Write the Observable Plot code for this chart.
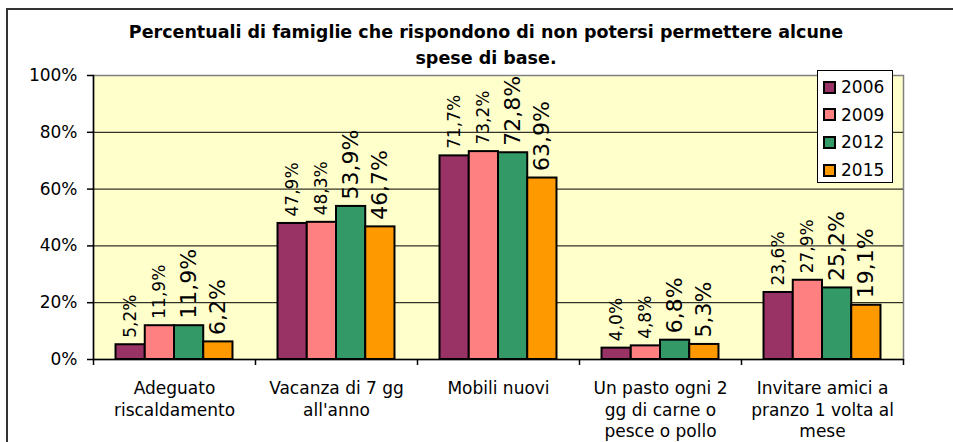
<!DOCTYPE html>
<html>
<head>
<meta charset="utf-8">
<script src="https://cdn.jsdelivr.net/npm/d3@7"></script>
<script src="https://cdn.jsdelivr.net/npm/@observablehq/plot@0.6"></script>
<style>
  html, body { margin: 0; padding: 0; background: #fff; }
  #chart { position: relative; width: 953px; height: 442px; overflow: hidden; font-family: "DejaVu Sans", sans-serif; }
  #chart svg { position: absolute; left: 0; top: 0; }
  #border { position: absolute; left: 6px; top: 8px; width: 1000px; height: 500px; border-left: 2px solid #333; border-top: 2px solid #333; box-sizing: border-box; }
  #title { position: absolute; left: 86px; width: 800px; top: 19px; text-align: center; font-family: "DejaVu Sans", sans-serif; font-weight: bold; font-size: 17.5px; line-height: 26px; color: #000; white-space: nowrap; }
  #legend { position: absolute; left: 817px; top: 70px; width: 76px; height: 113px; box-sizing: border-box; background: #fff; border: 1px solid #000; font-size: 17px; color: #000; }
  .item { position: absolute; left: 5px; height: 20px; display: flex; align-items: center; }
  .sw { width: 13px; height: 13px; box-sizing: border-box; border: 2px solid #000; margin-right: 5px; }
</style>
</head>
<body>
<div id="chart">
  <div id="border"></div>
  <div id="title">Percentuali di famiglie che rispondono di non potersi permettere alcune<br>spese di base.</div>
</div>
<script>
const categories = [
  "Adeguato\nriscaldamento",
  "Vacanza di 7 gg\nall'anno",
  "Mobili nuovi",
  "Un pasto ogni 2\ngg di carne o\npesce o pollo",
  "Invitare amici a\npranzo 1 volta al\nmese"
];
const years = ["2006", "2009", "2012", "2015"];
const values2006 = [5.2, 47.9, 71.7, 4.0, 23.6];
const values2009 = [11.9, 48.3, 73.2, 4.8, 27.9];
const values2012 = [11.9, 53.9, 72.8, 6.8, 25.2];
const values2015 = [6.2, 46.7, 63.9, 5.3, 19.1];
const colors = ["#993366", "#FF8080", "#339966", "#FF9900"];
const yTicks = [0, 20, 40, 60, 80, 100];
const largeLabelYears = ["2012", "2015"];

const series = [values2006, values2009, values2012, values2015];
const data = [];
categories.forEach((c, i) => {
  years.forEach((y, j) => data.push({category: c, year: y, value: series[j][i]}));
});

const W = 953, H = 442, mL = 93, mR = 50, mT = 75, mB = 83;
const bandW = (W - mL - mR) / categories.length;
const fmt = d => d.value.toFixed(1).replace(".", ",") + "%";

const chart = Plot.plot({
  width: W, height: H,
  marginLeft: mL, marginRight: mR, marginTop: mT, marginBottom: mB,
  style: {fontFamily: "'DejaVu Sans', sans-serif", fontSize: "17px", background: "transparent", overflow: "visible", color: "#000"},
  fx: {domain: categories, padding: 0, round: false, axis: null, label: null},
  x: {domain: years, paddingInner: 0, paddingOuter: 0.77, round: false, axis: null, label: null},
  y: {domain: [0, 100], axis: null, label: null},
  color: {domain: years, range: colors},
  marks: [
    Plot.frame({facet: "super", fill: "#FFFFCC", stroke: "#808080", strokeWidth: 1.5}),
    Plot.ruleY([20, 40, 60, 80], {stroke: "#000", strokeWidth: 1}),
    Plot.barY(data, {fx: "category", x: "year", y: "value", fill: "year", stroke: "#000", strokeWidth: 2}),
    Plot.text(data, {filter: d => !largeLabelYears.includes(d.year), fx: "category", x: "year", y: "value", text: fmt, rotate: -90, textAnchor: "start", dy: -7, fontSize: 17, fill: "#000"}),
    Plot.text(data, {filter: d => largeLabelYears.includes(d.year), fx: "category", x: "year", y: "value", text: fmt, rotate: -90, textAnchor: "start", dy: -7, fontSize: 22, fill: "#000"}),
    Plot.ruleY([0], {stroke: "#000", strokeWidth: 1.5}),
    Plot.frame({facet: "super", anchor: "left", stroke: "#000", strokeWidth: 1.5}),
    Plot.axisY({ticks: yTicks, tickFormat: d => d + "%", tickSize: 6, tickPadding: 10, fontSize: 17, stroke: "#000", strokeWidth: 1.5}),
    Plot.axisFx({anchor: "bottom", tickSize: 0, tickPadding: 19, lineHeight: 1.28, fontSize: 17, label: null}),
    Plot.axisFx({anchor: "bottom", tickSize: 6, text: null, dx: -bandW / 2, label: null, strokeWidth: 1.5}),
    Plot.axisFx({anchor: "bottom", ticks: [categories[categories.length - 1]], tickSize: 6, text: null, dx: bandW / 2, label: null, strokeWidth: 1.5})
  ]
});
const root = document.getElementById("chart");
root.insertBefore(chart, document.getElementById("title"));

const legend = document.createElement("div");
legend.id = "legend";
years.forEach((y, i) => {
  const item = document.createElement("div");
  item.className = "item";
  item.style.top = (6 + i * 27.7) + "px";
  const sw = document.createElement("div");
  sw.className = "sw";
  sw.style.background = colors[i];
  const t = document.createElement("span");
  t.textContent = y;
  item.appendChild(sw);
  item.appendChild(t);
  legend.appendChild(item);
});
root.appendChild(legend);
</script>
</body>
</html>
